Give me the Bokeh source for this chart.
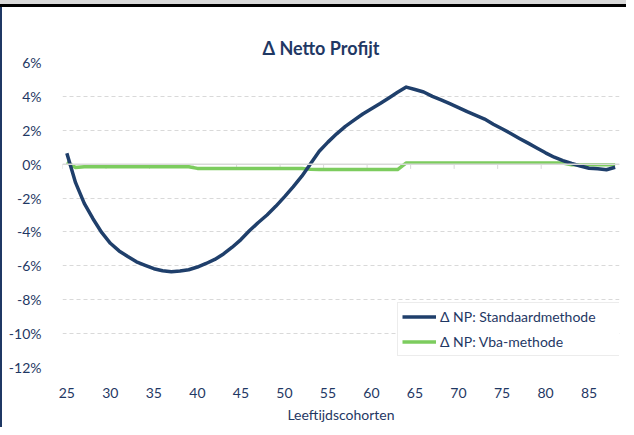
from bokeh.plotting import figure
from bokeh.models import (Range1d, FixedTicker, Span, Legend, LegendItem,
                          CustomJSTickFormatter)
from bokeh.embed import file_html
from bokeh.resources import INLINE

# ---- data ----
ages = list(range(25, 89))
standaard = [0.65, -1.09, -2.31, -3.22, -4.03, -4.67, -5.12, -5.45, -5.76, -5.97,
             -6.17, -6.29, -6.35, -6.31, -6.23, -6.07, -5.86, -5.62, -5.30, -4.90,
             -4.45, -3.92, -3.44, -3.00, -2.49, -1.93, -1.34, -0.71, 0.03, 0.76,
             1.30, 1.79, 2.23, 2.60, 2.96, 3.27, 3.58, 3.91, 4.24, 4.55,
             4.41, 4.26, 4.00, 3.79, 3.57, 3.34, 3.10, 2.88, 2.66, 2.36,
             2.09, 1.81, 1.52, 1.24, 0.95, 0.67, 0.41, 0.21, 0.04, -0.11,
             -0.24, -0.27, -0.33, -0.18]
vba = [0.12, -0.20, -0.15, -0.15, -0.15, -0.15, -0.15, -0.15, -0.15, -0.15,
       -0.15, -0.15, -0.15, -0.15, -0.15, -0.25, -0.25, -0.25, -0.25, -0.25,
       -0.25, -0.25, -0.25, -0.25, -0.25, -0.25, -0.25, -0.25, -0.30, -0.32,
       -0.32, -0.32, -0.32, -0.32, -0.32, -0.32, -0.32, -0.32, -0.32, 0.07,
       0.07, 0.07, 0.07, 0.07, 0.07, 0.07, 0.07, 0.07, 0.07, 0.07,
       0.07, 0.07, 0.07, 0.07, 0.07, 0.07, 0.07, 0.07, -0.04, -0.04,
       -0.04, -0.04, -0.04, -0.04]
series_labels = ["\u0394 NP: Standaardmethode", "\u0394 NP: Vba-methode"]
x_ticks = [25, 30, 35, 40, 45, 50, 55, 60, 65, 70, 75, 80, 85]
y_ticks = [-12, -10, -8, -6, -4, -2, 0, 2, 4, 6]
title_text = "\u0394 Netto Profijt"
x_label = "Leeftijdscohorten"

NAVY_TXT = "#1f3864"
NAVY = "#1f3f6b"
GREEN = "#7ccc5e"
GRID = "#d9d9d9"
FONT = "Lato"

p = figure(width=626, height=427, output_backend="svg", toolbar_location=None,
           x_range=Range1d(ages[0] - 0.5, ages[-1] + 0.5),
           y_range=Range1d(y_ticks[0], y_ticks[-1]),
           min_border_left=62, min_border_right=7, min_border_top=62,
           min_border_bottom=60, title=title_text)
p.outline_line_color = None
p.background_fill_color = "white"
p.border_fill_color = None
# chart-area frame decoration (grey band + black rule on top, navy rule on the left)
p.styles = {
    "background-color": "white",
    "box-shadow": "inset 0 4px 0 #d9d9d9, inset 0 7px 0 #000000, inset 2px 0 0 #1f3864",
}

p.title.align = "left"
p.title.offset = 200
p.title.text_font = FONT
p.title.text_font_size = "18px"
p.title.text_font_style = "bold"
p.title.text_color = NAVY_TXT
p.title.standoff = 8

# grid
p.xgrid.visible = False
p.ygrid.ticker = FixedTicker(ticks=y_ticks)
p.ygrid.grid_line_color = GRID
p.ygrid.grid_line_dash = "4 3"
p.ygrid.grid_line_width = 1

# axes
p.yaxis.ticker = FixedTicker(ticks=y_ticks)
p.yaxis.formatter = CustomJSTickFormatter(code="return Math.round(tick) + '%';")
p.yaxis.axis_line_color = None
p.yaxis.major_tick_line_color = None
p.yaxis.minor_tick_line_color = None
p.yaxis.major_label_standoff = 15
p.yaxis.major_label_text_font = FONT
p.yaxis.major_label_text_font_size = "14px"
p.yaxis.major_label_text_color = NAVY_TXT

p.xaxis.ticker = FixedTicker(ticks=x_ticks)
p.xaxis.axis_line_color = None
p.xaxis.major_tick_line_color = None
p.xaxis.minor_tick_line_color = None
p.xaxis.major_label_standoff = 14
p.xaxis.major_label_text_font = FONT
p.xaxis.major_label_text_font_size = "14px"
p.xaxis.major_label_text_color = NAVY_TXT
p.xaxis.axis_label = x_label
p.xaxis.axis_label_standoff = 5
p.xaxis.axis_label_text_font = FONT
p.xaxis.axis_label_text_font_size = "14px"
p.xaxis.axis_label_text_font_style = "normal"
p.xaxis.axis_label_text_color = NAVY_TXT

# zero axis line with category-boundary ticks
p.add_layout(Span(location=0, dimension="width", line_color=GRID, line_width=1.5))
bounds = [t - 0.5 for t in x_ticks]
p.segment(x0=bounds, y0=[0] * len(bounds), x1=bounds, y1=[-0.28] * len(bounds),
          line_color=GRID, line_width=1)

r2 = p.line(ages, vba, line_color=GREEN, line_width=3.5, line_join="round")
r1 = p.line(ages, standaard, line_color=NAVY, line_width=3.5, line_join="round")

legend = Legend(items=[LegendItem(label=series_labels[0], renderers=[r1]),
                       LegendItem(label=series_labels[1], renderers=[r2])],
                location=(335, 11), margin=0, padding=4, spacing=6,
                glyph_width=34, glyph_height=19, label_height=19, label_standoff=4,
                label_width=176,
                label_text_font=FONT, label_text_font_size="14px",
                label_text_color=NAVY_TXT, border_line_color=GRID, border_line_width=1,
                background_fill_color="white", background_fill_alpha=1.0)
p.add_layout(legend)

open("out.html", "w").write(file_html(p, INLINE))
